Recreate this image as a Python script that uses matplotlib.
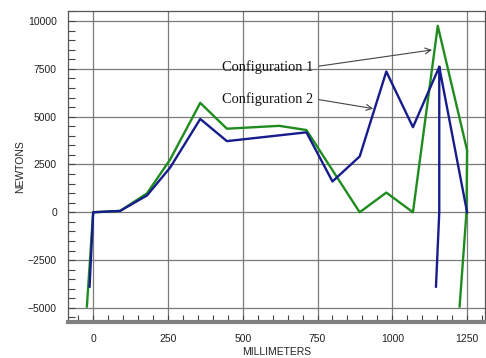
import numpy as np
import matplotlib
matplotlib.use('Agg')
import matplotlib.pyplot as plt
from matplotlib.ticker import MultipleLocator

plt.rcParams['font.family'] = 'Liberation Sans'

# Configuration 1 (green)
mm_cfg1 = [-21, 0, 90, 180, 257, 358, 447, 622, 713, 891, 980, 1069, 1152, 1250, 1248, 1225]
n_cfg1 = [-4930, 0, 70, 990, 2750, 5720, 4370, 4520, 4300, 0, 1030, 0, 9750, 3250, 0, -4930]

# Configuration 2 (blue); NaN breaks the unloading branch into a second piece
mm_cfg2 = [-12, 0, 90, 180, 257, 358, 447, 713, 800, 891, 980, 1069, 1157, 1250,
           np.nan, 1157, 1157, 1146]
n_cfg2 = [-3890, 0, 70, 880, 2330, 4880, 3720, 4180, 1610, 2920, 7360, 4450, 7600, 0,
          np.nan, 7600, 0, -3890]

fig = plt.figure(figsize=(4.86, 3.58), dpi=100)
ax = fig.add_axes([0.140, 0.101, 0.858, 0.868])

ax.plot(mm_cfg1, n_cfg1, color='#1f8c1f', lw=1.7, zorder=3)
ax.plot(mm_cfg2, n_cfg2, color='#161c8c', lw=1.7, zorder=4)

ax.set_xlim(-84, 1310)
ax.set_ylim(-5730, 10520)
ax.xaxis.set_major_locator(MultipleLocator(250))
ax.xaxis.set_minor_locator(MultipleLocator(50))
ax.yaxis.set_major_locator(MultipleLocator(2500))
ax.yaxis.set_minor_locator(MultipleLocator(500))
ax.grid(True, which='major', color='#7a7a7a', lw=0.9)

ax.tick_params(axis='both', which='both', direction='in', colors='#444444',
               labelcolor='#222222', labelsize=7.5, width=0.8)
ax.tick_params(axis='both', which='major', length=5)
ax.tick_params(axis='both', which='minor', length=5)
ax.tick_params(axis='x', pad=9)
ax.tick_params(axis='y', pad=8)

for side in ['top', 'right', 'left']:
    ax.spines[side].set_color('#555555')
    ax.spines[side].set_linewidth(0.9)
ax.spines['bottom'].set_color('#808080')
ax.spines['bottom'].set_linewidth(3)

ax.set_xlabel('MILLIMETERS', fontsize=7.5, color='#222222', labelpad=2)
ax.set_ylabel('NEWTONS', fontsize=7.5, color='#222222', labelpad=2)

serif = {'family': 'Liberation Serif', 'size': 10.4, 'color': '#111111'}
ax.annotate('Configuration 1', xy=(1133, 8490), xytext=(431, 7600),
            va='center', ha='left', **serif,
            arrowprops=dict(arrowstyle='->', color='#444444', lw=0.8,
                            shrinkA=2, shrinkB=0, relpos=(1, 0.5)))
ax.annotate('Configuration 2', xy=(936, 5420), xytext=(431, 5940),
            va='center', ha='left', **serif,
            arrowprops=dict(arrowstyle='->', color='#444444', lw=0.8,
                            shrinkA=2, shrinkB=0, relpos=(1, 0.5)))

plt.savefig('out.png', dpi=100)
